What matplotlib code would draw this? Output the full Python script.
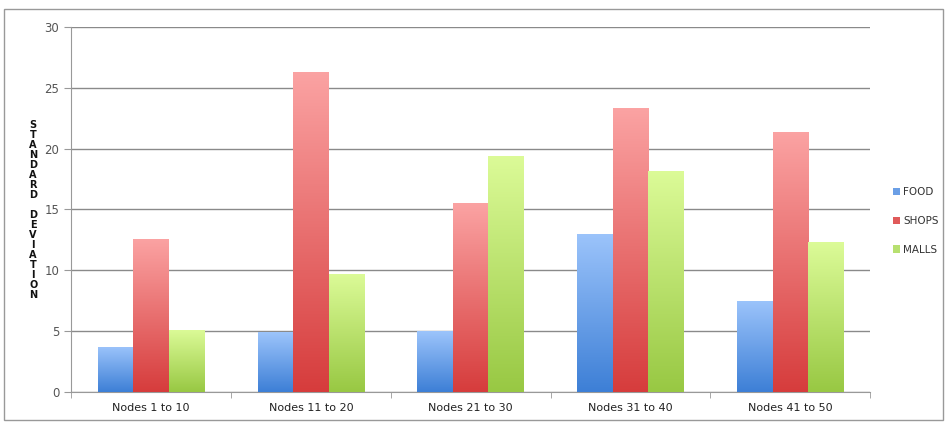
import matplotlib
matplotlib.use('Agg')
import matplotlib.pyplot as plt
import numpy as np
from matplotlib.colors import LinearSegmentedColormap
from matplotlib.patches import Rectangle, Patch

# data
groups = ['Nodes 1 to 10', 'Nodes 11 to 20', 'Nodes 21 to 30', 'Nodes 31 to 40', 'Nodes 41 to 50']
food = [3.7, 4.9, 5.0, 13.0, 7.5]
shops = [12.6, 26.3, 15.5, 23.3, 21.4]
malls = [5.1, 9.7, 19.4, 18.2, 12.3]
series_names = ['FOOD', 'SHOPS', 'MALLS']

# (top colour, bottom colour) for each series
gradients = [('#9cc4fb', '#3d7fd6'),
             ('#fba3a3', '#d63c3c'),
             ('#dcfb98', '#98c843')]
legend_colors = ['#6b9fe6', '#e05a5a', '#b7e070']

fig = plt.figure(figsize=(9.48, 4.25), dpi=100)
ax = fig.add_axes([0.075, 0.0776, 0.843, 0.859])

x = np.arange(len(groups))
w = 1 / 4.5
for i, vals in enumerate([food, shops, malls]):
    bars = ax.bar(x + (i - 1) * w, vals, width=w, color='none', edgecolor='none', zorder=3)
    cmap = LinearSegmentedColormap.from_list('g%d' % i, [gradients[i][1], gradients[i][0]])
    grad = np.linspace(0, 1, 256).reshape(-1, 1)
    for b in bars:
        x0, y0 = b.get_x(), b.get_y()
        bw, bh = b.get_width(), b.get_height()
        im = ax.imshow(grad, cmap=cmap, aspect='auto', origin='lower',
                       extent=[x0, x0 + bw, y0, y0 + bh], zorder=3)
        im.set_clip_path(b)

ax.set_xlim(-0.5, len(groups) - 0.5)
ax.set_ylim(0, 30)
ax.set_yticks(np.arange(0, 31, 5))
ax.yaxis.grid(True, color='#8a8a8a', linewidth=1)
ax.set_axisbelow(True)

ax.set_xticks(x)
ax.set_xticklabels(groups, fontsize=8, color='#222222')
ax.tick_params(axis='x', length=0, pad=8)
ax.set_xticks(np.arange(-0.5, len(groups), 1), minor=True)
ax.tick_params(axis='x', which='minor', length=4, color='#999999', direction='out')
ax.tick_params(axis='y', labelsize=8.5, labelcolor='#555555', color='#999999', length=5)

for s in ['top', 'right']:
    ax.spines[s].set_visible(False)
for s in ['left', 'bottom']:
    ax.spines[s].set_color('#999999')

# stacked-letter axis title
label = 'STANDARD DEVIATION'
fig.text(0.035, 0.505, '\n'.join(label), fontsize=7, fontweight='bold',
         ha='center', va='center', linespacing=1.0, color='#111111')

handles = [Patch(facecolor=c, edgecolor='none') for c in legend_colors]
fig.legend(handles, series_names, loc='center left', bbox_to_anchor=(0.932, 0.48),
           frameon=False, fontsize=7.5, handlelength=0.7, handleheight=0.7,
           handletextpad=0.3, labelspacing=1.8, labelcolor='#333333')

# outer frame
fig.patches.append(Rectangle((0.004, 0.012), 0.991, 0.968, transform=fig.transFigure,
                             fill=False, edgecolor='#999999', linewidth=1))

fig.savefig('out.png', dpi=100)
